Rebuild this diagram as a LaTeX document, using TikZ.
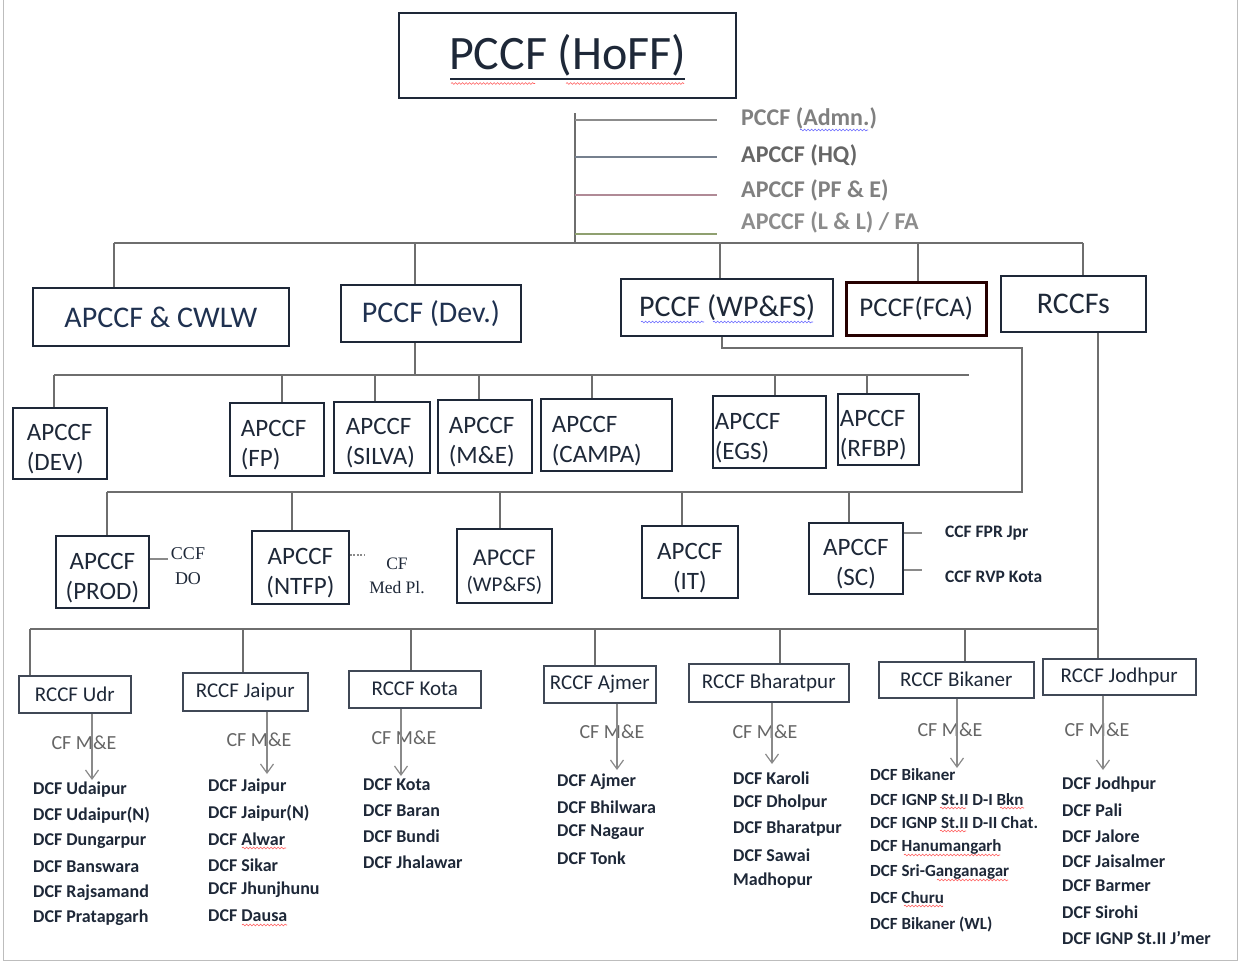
\documentclass[tikz,border=0pt]{standalone}
\usepackage{fontspec}
\setmainfont{Carlito}
\newfontfamily\serifc{Liberation Serif}
\usetikzlibrary{arrows.meta,decorations.pathmorphing}
\definecolor{ink}{HTML}{1E2838}
\definecolor{navy}{HTML}{1F3150}
\definecolor{lgray}{HTML}{8A8A8A}
\definecolor{conn}{HTML}{6E6E6E}
\definecolor{sideA}{HTML}{8C8C8C}
\definecolor{sideB}{HTML}{76808E}
\definecolor{sideC}{HTML}{B08A96}
\definecolor{sideD}{HTML}{8FA070}
\definecolor{frame}{HTML}{BDBDBD}
\newcommand\mystrut{\rule{0pt}{28pt}}
\begin{document}
\begin{tikzpicture}[x=1pt,y=-1pt,
  box/.style={draw=ink, line width=1.8pt, inner sep=0pt, anchor=north west, text=ink},
  bigbox/.style={box, text=navy, font=\fontsize{30}{32}\selectfont},
  tbox/.style={box, align=left, font=\fontsize{25}{30}\selectfont},
  cbox/.style={box, align=center, font=\fontsize{25}{30}\selectfont},
  rbox/.style={draw=ink!85, line width=1.5pt, inner sep=0pt, anchor=north west, text=ink, font=\fontsize{21}{24}\selectfont},
  cn/.style={draw=conn, line width=1.2pt},
  arr/.style={draw=lgray, line width=1.2pt, -{Straight Barb[length=9pt,width=13pt]}},
  dcf/.style={anchor=west, inner sep=0pt, text=ink, font=\fontsize{18}{20}\bfseries\selectfont},
  dcfs/.style={anchor=west, inner sep=0pt, text=ink, font=\fontsize{17}{20}\bfseries\selectfont},
  cfme/.style={anchor=center, inner sep=0pt, text=black!60, font=\fontsize{20}{22}\selectfont},
  side/.style={anchor=west, inner sep=0pt, font=\fontsize{24}{26}\bfseries\selectfont},
  sml/.style={anchor=west, inner sep=0pt, text=ink, font=\fontsize{17.5}{20}\bfseries\selectfont},
  ser/.style={anchor=center, inner sep=0pt, align=center, text=ink, font=\serifc\fontsize{18}{25}\selectfont},
  wavyr/.style={draw=red!65, line width=0.6pt, decorate, decoration={snake, amplitude=0.9pt, segment length=3.5pt}},
  wavyb/.style={draw=blue!60, line width=0.6pt, decorate, decoration={snake, amplitude=0.9pt, segment length=3.5pt}},
]
\useasboundingbox (0,0) rectangle (1240,967);
\fill[white] (0,0) rectangle (1240,967);
% page frame
\draw[frame, line width=1pt] (3,0) -- (3,960) -- (1237,960) -- (1237,0);

% ---------- top ----------
\node[box, line width=2.4pt, minimum width=337pt, minimum height=85pt, font=\fontsize{48}{50}\selectfont] (hoff) at (398,12) {PCCF (HoFF)};
\draw[ink, line width=1.6pt] (450,79) -- (685,79);
\draw[wavyr] (451,83.5) -- (535,83.5);
\draw[wavyr] (566,83.5) -- (684,83.5);

\coordinate (sv) at (575,113);
\coordinate (sb) at (575,243);
\draw[cn] (sv) -- (sb);
\node[side, text=black!50] (s1) at (741,118) {PCCF (Admn.)};
\node[side, text=black!60] (s2) at (741,155) {APCCF (HQ)};
\node[side, text=black!50] (s3) at (741,190) {APCCF (PF \& E)};
\node[side, text=black!45] (s4) at (741,222) {APCCF (L \& L) / FA};
\draw[wavyb] (800,130) -- (868,130);
\draw[sideA, line width=1.2pt] (575,120) -- (717,120);
\draw[sideB, line width=1.2pt] (575,157) -- (717,157);
\draw[sideC, line width=1.2pt] (575,195) -- (717,195);
\draw[sideD, line width=1.2pt] (575,234) -- (717,234);

% ---------- row 2 ----------
\node[bigbox, minimum width=256pt, minimum height=58pt] (cwlw) at (32,287) {APCCF \& CWLW};
\node[bigbox, minimum width=180pt, minimum height=57pt] (dev) at (340,284) {PCCF (Dev.)};
\node[bigbox, line width=2.4pt, minimum width=212pt, minimum height=57pt, text=ink] (wpfs) at (620,278) {PCCF (WP\&FS)};
\node[bigbox, line width=2.6pt, draw=black!85!red, minimum width=140pt, minimum height=53pt, font=\fontsize{27}{30}\selectfont, text=ink] (fca) at (845,281) {PCCF(FCA)};
\node[bigbox, minimum width=145pt, minimum height=56pt, text=ink] (rccfs) at (1000,275) {RCCFs};
\draw[wavyb] (641,322) -- (704,322);
\draw[wavyb] (713,322) -- (813,322);

\coordinate (b1l) at (114,243);
\coordinate (b1r) at (1083,243);
\draw[cn] (b1l) -- (b1r);
\draw[cn] (b1l) -- (cwlw.north -| b1l);
\draw[cn] (415,243) -- (dev.north -| 415,0);
\draw[cn] (720,243) -- (wpfs.north -| 720,0);
\draw[cn] (918,243) -- (fca.north -| 918,0);
\draw[cn] (b1r) -- (rccfs.north -| b1r);

% ---------- row 3 ----------
\node[tbox, minimum width=94pt, minimum height=71pt, text width=66pt] (adev) at (12,407) {\mystrut APCCF\\(DEV)};
\node[tbox, minimum width=94pt, minimum height=73pt, text width=72pt] (afp) at (229,402) {\mystrut APCCF\\(FP)};
\node[tbox, minimum width=96pt, minimum height=71pt, text width=72pt] (asil) at (333,401) {\mystrut APCCF\\(SILVA)};
\node[tbox, minimum width=94pt, minimum height=73pt, text width=72pt] (ame) at (437,399) {\mystrut APCCF\\(M\&E)};
\node[tbox, minimum width=131pt, minimum height=72pt, text width=109pt] (acam) at (540,398) {\mystrut APCCF\\(CAMPA)};
\node[tbox, minimum width=113pt, minimum height=72pt, text width=109pt] (aegs) at (712,395) {\mystrut APCCF\\(EGS)};
\node[tbox, minimum width=81pt, minimum height=71pt, text width=77pt] (arfbp) at (837,393) {\mystrut APCCF\\(RFBP)};

\coordinate (b2l) at (54,375);
\coordinate (b2r) at (969,375);
\draw[cn] (b2l) -- (b2r);
\draw[cn] (dev.south -| 415,0) -- (415,375);
\draw[cn] (b2l) -- (adev.north -| b2l);
\draw[cn] (282,375) -- (afp.north -| 282,0);
\draw[cn] (375,375) -- (asil.north -| 375,0);
\draw[cn] (479,375) -- (ame.north -| 479,0);
\draw[cn] (592,375) -- (acam.north -| 592,0);
\draw[cn] (775,375) -- (aegs.north -| 775,0);
\draw[cn] (867,375) -- (arfbp.north -| 867,0);

% ---------- row 4 ----------
\coordinate (b3l) at (107,492);
\coordinate (b3r) at (1022,492);
\draw[cn] (wpfs.south -| 722,0) -- (722,348) -- (1022,348) -- (b3r) -- (b3l);

\node[cbox, minimum width=93pt, minimum height=72pt] (aprod) at (55,535) {\mystrut APCCF\\(PROD)};
\node[cbox, minimum width=97pt, minimum height=73pt] (antfp) at (251,530) {\mystrut APCCF\\(NTFP)};
\node[cbox, minimum width=95pt, minimum height=74pt, font=\fontsize{24}{26}\selectfont] (awp) at (456,528) {\mystrut APCCF\\{\fontsize{21}{26}\selectfont(WP\&FS)}};
\node[cbox, minimum width=96pt, minimum height=72pt] (ait) at (641,525) {\mystrut APCCF\\(IT)};
\node[cbox, minimum width=94pt, minimum height=71pt] (asc) at (808,522) {\mystrut APCCF\\(SC)};

\draw[cn] (b3l) -- (aprod.north -| b3l);
\draw[cn] (292,492) -- (antfp.north -| 292,0);
\draw[cn] (500,492) -- (awp.north -| 500,0);
\draw[cn] (682,492) -- (ait.north -| 682,0);
\draw[cn] (849,492) -- (asc.north -| 849,0);

\node[ser] (ccfdo) at (188,566) {CCF\\DO};
\draw[lgray, line width=1.2pt] (aprod.east |- 0,559) -- (168,559);
\node[ser, font=\serifc\fontsize{17.5}{24}\selectfont] (cfmed) at (397,576) {CF\\Med Pl.};
\draw[lgray, line width=1.2pt, dash pattern=on 2pt off 1.5pt] (antfp.east |- 0,555) -- (364,555);
\node[sml] (fpr) at (945,533) {CCF FPR Jpr};
\node[sml] (rvp) at (945,577) {CCF RVP Kota};
\draw[lgray, line width=1.2pt] (asc.east |- 0,533) -- (922,533);
\draw[lgray, line width=1.2pt] (asc.east |- 0,570) -- (922,570);

% ---------- row 5 ----------
\node[rbox, minimum width=112pt, minimum height=37pt] (udr) at (18,675) {RCCF Udr};
\node[rbox, minimum width=125pt, minimum height=38pt] (jai) at (182,672) {RCCF Jaipur};
\node[rbox, minimum width=132pt, minimum height=37pt] (kota) at (348,670) {RCCF Kota};
\node[rbox, minimum width=112pt, minimum height=37pt] (ajm) at (543,665) {RCCF Ajmer};
\node[rbox, minimum width=160pt, minimum height=38pt] (bha) at (688,663) {RCCF Bharatpur};
\node[rbox, minimum width=155pt, minimum height=36pt] (bik) at (878,661) {RCCF Bikaner};
\node[rbox, minimum width=153pt, minimum height=36pt] (jod) at (1042,658) {RCCF Jodhpur};

\coordinate (b4l) at (30,629);
\coordinate (b4r) at (1098,629);
\draw[cn] (rccfs.south -| b4r) -- (jod.north -| b4r);
\draw[cn] (b4l) -- (b4r);
\draw[cn] (b4l) -- (udr.north -| b4l);
\draw[cn] (243,629) -- (jai.north -| 243,0);
\draw[cn] (411,629) -- (kota.north -| 411,0);
\draw[cn] (595,629) -- (ajm.north -| 595,0);
\draw[cn] (780,629) -- (bha.north -| 780,0);
\draw[cn] (965,629) -- (bik.north -| 965,0);

% CF M&E labels and arrows
\node[cfme] (m1) at (84,743) {CF M\&E};
\node[cfme] (m2) at (259,740) {CF M\&E};
\node[cfme] (m3) at (404,738) {CF M\&E};
\node[cfme] (m4) at (612,732) {CF M\&E};
\node[cfme] (m5) at (765,732) {CF M\&E};
\node[cfme] (m6) at (950,730) {CF M\&E};
\node[cfme] (m7) at (1097,730) {CF M\&E};
\coordinate (t1) at (92,780);
\coordinate (t2) at (267,774);
\coordinate (t3) at (401,776);
\coordinate (t4) at (617,770);
\coordinate (t5) at (772,764);
\coordinate (t6) at (957,768);
\coordinate (t7) at (1103,770);
\draw[arr] (udr.south -| t1) -- (t1);
\draw[arr] (jai.south -| t2) -- (t2);
\draw[arr] (kota.south -| t3) -- (t3);
\draw[arr] (ajm.south -| t4) -- (t4);
\draw[arr] (bha.south -| t5) -- (t5);
\draw[arr] (bik.south -| t6) -- (t6);
\draw[arr] (jod.south -| t7) -- (t7);

% DCF lists
\node[dcf] (u1) at (33,790) {DCF Udaipur};
\node[dcf] (u2) at (33,815) {DCF Udaipur(N)};
\node[dcf] (u3) at (33,841) {DCF Dungarpur};
\node[dcf] (u4) at (33,867) {DCF Banswara};
\node[dcf] (u5) at (33,893) {DCF Rajsamand};
\node[dcf] (u6) at (33,918) {DCF Pratapgarh};

\node[dcf] (j1) at (208,787) {DCF Jaipur};
\node[dcf] (j2) at (208,813) {DCF Jaipur(N)};
\node[dcf] (j3) at (208,839) {DCF Alwar};
\node[dcf] (j4) at (208,865) {DCF Sikar};
\node[dcf] (j5) at (208,890) {DCF Jhunjhunu};
\node[dcf] (j6) at (208,916) {DCF Dausa};
\draw[wavyr] (242,848) -- (286,848);
\draw[wavyr] (242,925) -- (287,925);

\node[dcf] (k1) at (363,785) {DCF Kota};
\node[dcf] (k2) at (363,811) {DCF Baran};
\node[dcf] (k3) at (363,836) {DCF Bundi};
\node[dcf] (k4) at (363,862) {DCF Jhalawar};

\node[dcf] (a1) at (557,782) {DCF Ajmer};
\node[dcf] (a2) at (557,807) {DCF Bhilwara};
\node[dcf] (a3) at (557,832) {DCF Nagaur};
\node[dcf] (a4) at (557,858) {DCF Tonk};

\node[dcf] (h1) at (733,778) {DCF Karoli};
\node[dcf] (h2) at (733,803) {DCF Dholpur};
\node[dcf] (h3) at (733,829) {DCF Bharatpur};
\node[dcf] (h4) at (733,855) {DCF Sawai};
\node[dcf] (h5) at (733,881) {Madhopur};

\node[dcfs] (k21) at (870,775) {DCF Bikaner};
\node[dcfs] (k22) at (870,800) {DCF IGNP St.II D-I Bkn};
\node[dcfs] (k23) at (870,823) {DCF IGNP St.II D-II Chat.};
\node[dcfs] (k24) at (870,847) {DCF Hanumangarh};
\node[dcfs] (k25) at (870,872) {DCF Sri-Ganganagar};
\node[dcfs] (k26) at (870,898) {DCF Churu};
\node[dcfs] (k27) at (870,924) {DCF Bikaner (WL)};
\draw[wavyr] (940,808) -- (966,808);
\draw[wavyr] (1000,808) -- (1024,808);
\draw[wavyr] (940,831) -- (966,831);
\draw[wavyr] (904,855) -- (1000,855);
\draw[wavyr] (937,880) -- (1008,880);
\draw[wavyr] (904,906) -- (943,906);

\node[dcf] (o1) at (1062,785) {DCF Jodhpur};
\node[dcf] (o2) at (1062,810) {DCF Pali};
\node[dcf] (o3) at (1062,836) {DCF Jalore};
\node[dcf] (o4) at (1062,861) {DCF Jaisalmer};
\node[dcf] (o5) at (1062,886) {DCF Barmer};
\node[dcf] (o6) at (1062,912) {DCF Sirohi};
\node[dcf] (o7) at (1062,938) {DCF IGNP St.II J'mer};
\end{tikzpicture}
\end{document}
